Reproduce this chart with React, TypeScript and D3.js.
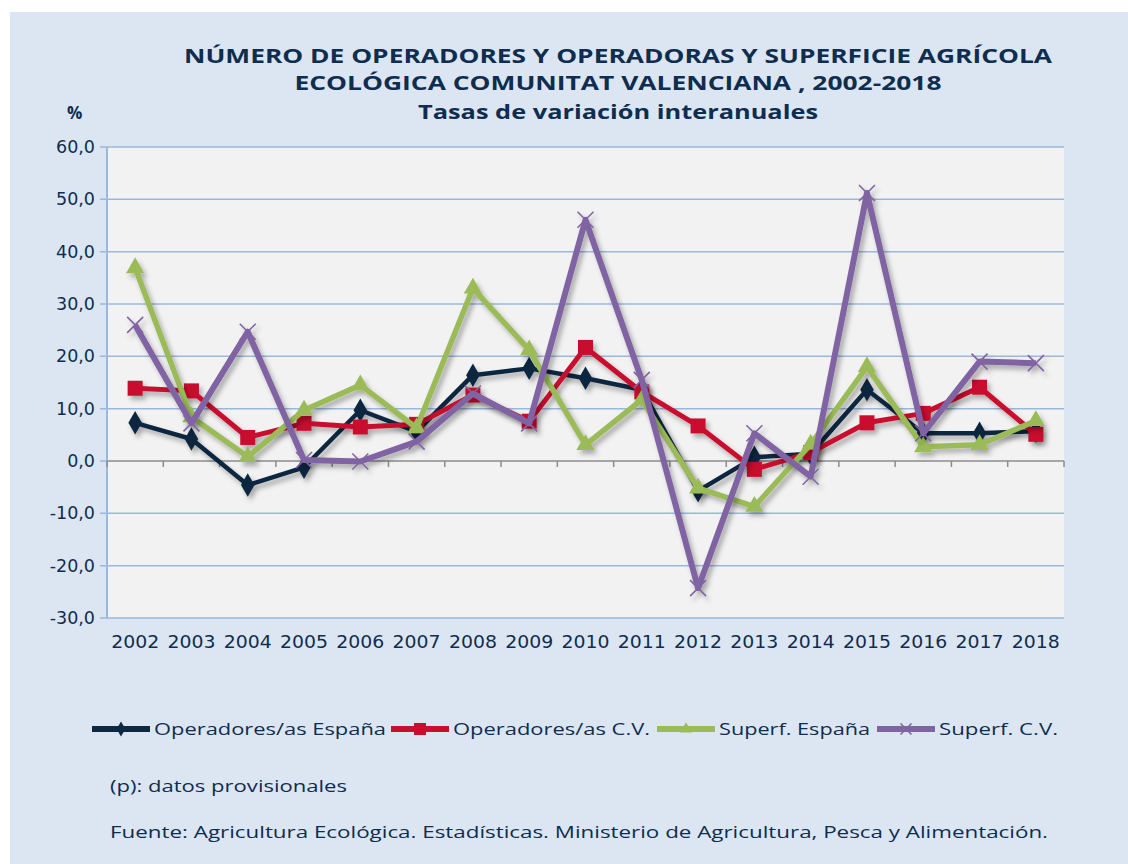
import React, { useEffect, useRef } from 'react';
import * as d3 from 'd3';

const years = ['2002', '2003', '2004', '2005', '2006', '2007', '2008', '2009', '2010', '2011', '2012', '2013', '2014', '2015', '2016', '2017', '2018'];

const operadoresEspana = [7.3, 4.2, -4.6, -1.2, 9.7, 5.6, 16.4, 17.7, 15.8, 13.6, -5.7, 0.7, 1.4, 13.6, 5.3, 5.3, 5.7];
const operadoresCV = [13.9, 13.4, 4.5, 7.2, 6.5, 7.0, 12.6, 7.6, 21.7, 13.2, 6.7, -1.6, 1.6, 7.3, 9.1, 14.1, 5.1];
const superfEspana = [36.9, 8.4, 0.8, 9.7, 14.5, 6.3, 33.0, 21.2, 3.1, 11.7, -5.2, -8.7, 3.2, 18.0, 2.7, 3.1, 7.7];
const superfCV = [26.0, 7.2, 24.7, 0.2, -0.1, 3.7, 12.9, 7.2, 46.1, 15.5, -24.3, 5.3, -3.0, 51.2, 5.3, 19.0, 18.7];

const yTicks = [60, 50, 40, 30, 20, 10, 0, -10, -20, -30];

const series = [
  { name: 'Operadores/as España', values: operadoresEspana, color: '#0e2841', width: 4.5, marker: 'diamond' },
  { name: 'Operadores/as C.V.', values: operadoresCV, color: '#c8102e', width: 5, marker: 'square' },
  { name: 'Superf. España', values: superfEspana, color: '#9bbb59', width: 5.5, marker: 'triangle' },
  { name: 'Superf. C.V.', values: superfCV, color: '#8064a2', width: 6, marker: 'cross' },
];

const width = 1128;
const height = 864;
const left = 107;
const right = 1064;
const top = 147;
const bottom = 618;
const textColor = '#0f2d4f';
const font = "'Open Sans', sans-serif";
const axisFont = "'DejaVu Sans', sans-serif";

function drawMarker(g: any, kind: string, x: number, y: number, color: string, size: number) {
  if (kind === 'diamond') {
    g.append('path')
      .attr('d', d3.symbol(d3.symbolDiamond, size * size * 0.55)())
      .attr('transform', 'translate(' + x + ',' + y + ')')
      .attr('fill', color);
  } else if (kind === 'square') {
    g.append('rect')
      .attr('x', x - size / 2)
      .attr('y', y - size / 2)
      .attr('width', size)
      .attr('height', size)
      .attr('fill', color);
  } else if (kind === 'triangle') {
    g.append('path')
      .attr('d', d3.symbol(d3.symbolTriangle, size * size * 0.5)())
      .attr('transform', 'translate(' + x + ',' + y + ')')
      .attr('fill', color);
  } else {
    const h = size / 2;
    g.append('path')
      .attr('d', `M${x - h},${y - h}L${x + h},${y + h}M${x - h},${y + h}L${x + h},${y - h}`)
      .attr('stroke', color)
      .attr('stroke-width', 1.6)
      .attr('fill', 'none');
  }
}

export default function App() {
  const ref = useRef<SVGSVGElement>(null);

  useEffect(() => {
    const svg = d3.select(ref.current);
    svg.selectAll('*').remove();

    const defs = svg.append('defs');
    const filter = defs.append('filter').attr('id', 'shadow').attr('x', '-20%').attr('y', '-20%').attr('width', '140%').attr('height', '140%');
    filter.append('feDropShadow')
      .attr('dx', 3)
      .attr('dy', 4)
      .attr('stdDeviation', 2.5)
      .attr('flood-color', '#000')
      .attr('flood-opacity', 0.3);

    svg.append('rect').attr('width', width).attr('height', height).attr('fill', '#ffffff');
    svg.append('rect')
      .attr('x', 10)
      .attr('y', 12)
      .attr('width', width - 10)
      .attr('height', height - 12)
      .attr('fill', '#dce6f2');

    const xScale = d3.scaleBand().domain(years).range([left, right]);
    const yScale = d3.scaleLinear().domain([-30, 60]).range([bottom, top]);

    // plot area
    svg.append('rect')
      .attr('x', left)
      .attr('y', top)
      .attr('width', right - left)
      .attr('height', bottom - top)
      .attr('fill', '#f2f2f2');

    // gridlines
    svg.append('g')
      .selectAll('line')
      .data(yTicks.filter((d) => d !== 0))
      .enter()
      .append('line')
      .attr('x1', left - 7)
      .attr('x2', right)
      .attr('y1', (d) => yScale(d))
      .attr('y2', (d) => yScale(d))
      .attr('stroke', '#9ab7dc')
      .attr('stroke-width', 1.5);

    // y axis line + zero tick
    svg.append('line')
      .attr('x1', left)
      .attr('x2', left)
      .attr('y1', top)
      .attr('y2', bottom)
      .attr('stroke', '#9ab7dc')
      .attr('stroke-width', 2);
    svg.append('line')
      .attr('x1', left - 7)
      .attr('x2', left)
      .attr('y1', yScale(0))
      .attr('y2', yScale(0))
      .attr('stroke', '#9ab7dc')
      .attr('stroke-width', 1.5);

    // x axis at zero
    svg.append('line')
      .attr('x1', left)
      .attr('x2', right)
      .attr('y1', yScale(0))
      .attr('y2', yScale(0))
      .attr('stroke', '#8c8c8c')
      .attr('stroke-width', 1.5);
    svg.append('g')
      .selectAll('line')
      .data(years.concat(['end']))
      .enter()
      .append('line')
      .attr('x1', (d, i) => left + i * xScale.bandwidth())
      .attr('x2', (d, i) => left + i * xScale.bandwidth())
      .attr('y1', yScale(0))
      .attr('y2', yScale(0) + 6)
      .attr('stroke', '#8c8c8c')
      .attr('stroke-width', 1.5);

    // y labels
    svg.append('g')
      .selectAll('text')
      .data(yTicks)
      .enter()
      .append('text')
      .attr('x', 95)
      .attr('y', (d) => yScale(d) + 6)
      .attr('text-anchor', 'end')
      .attr('font-family', axisFont)
      .attr('font-size', 17.5)
      .attr('fill', textColor)
      .text((d) => d.toFixed(1).replace('.', ','));

    // x labels
    svg.append('g')
      .selectAll('text')
      .data(years)
      .enter()
      .append('text')
      .attr('x', (d) => (xScale(d) as number) + xScale.bandwidth() / 2)
      .attr('y', 648)
      .attr('text-anchor', 'middle')
      .attr('font-family', axisFont)
      .attr('font-size', 18)
      .attr('fill', textColor)
      .attr('textLength', 48)
      .attr('lengthAdjust', 'spacingAndGlyphs')
      .text((d) => d);

    const cx = (i: number) => (xScale(years[i]) as number) + xScale.bandwidth() / 2;
    const line = d3.line<number>().x((d, i) => cx(i)).y((d) => yScale(d));

    series.forEach((s) => {
      const g = svg.append('g').attr('filter', 'url(#shadow)');
      g.append('path')
        .attr('d', line(s.values))
        .attr('fill', 'none')
        .attr('stroke', s.color)
        .attr('stroke-width', s.width)
        .attr('stroke-linejoin', 'round');
      const size = s.marker === 'cross' ? 16 : s.marker === 'square' ? 15 : 17;
      s.values.forEach((v, i) => drawMarker(g, s.marker, cx(i), yScale(v), s.color, size));
    });

    // titles
    const titles = [
      { t: 'NÚMERO DE OPERADORES Y OPERADORAS Y SUPERFICIE AGRÍCOLA', y: 63, w: 868 },
      { t: 'ECOLÓGICA COMUNITAT VALENCIANA , 2002-2018', y: 90, w: 647 },
      { t: 'Tasas de variación interanuales', y: 119, w: 400 },
    ];
    titles.forEach((d) => {
      svg.append('text')
        .attr('x', 618)
        .attr('y', d.y)
        .attr('text-anchor', 'middle')
        .attr('font-family', font)
        .attr('font-weight', 'bold')
        .attr('font-size', 20)
        .attr('fill', textColor)
        .attr('textLength', d.w)
        .attr('lengthAdjust', 'spacingAndGlyphs')
        .text(d.t);
    });
    svg.append('text')
      .attr('x', 67)
      .attr('y', 119)
      .attr('font-family', font)
      .attr('font-weight', 'bold')
      .attr('font-size', 17)
      .attr('fill', textColor)
      .text('%');

    // legend
    const legendX = [92, 391, 657, 877];
    const legendW = [232, 197, 151, 119];
    series.forEach((s, i) => {
      const g = svg.append('g');
      const x0 = legendX[i];
      g.append('line')
        .attr('x1', x0)
        .attr('x2', x0 + 58)
        .attr('y1', 729)
        .attr('y2', 729)
        .attr('stroke', s.color)
        .attr('stroke-width', 6);
      drawMarker(g, s.marker, x0 + 29, 729, s.color, s.marker === 'square' ? 12 : 11);
      g.append('text')
        .attr('x', x0 + 62)
        .attr('y', 735)
        .attr('font-family', font)
        .attr('font-size', 17)
        .attr('fill', textColor)
        .attr('textLength', legendW[i])
        .attr('lengthAdjust', 'spacingAndGlyphs')
        .text(s.name);
    });

    svg.append('text')
      .attr('x', 110)
      .attr('y', 792)
      .attr('font-family', font)
      .attr('font-size', 17)
      .attr('fill', textColor)
      .attr('textLength', 237)
      .attr('lengthAdjust', 'spacingAndGlyphs')
      .text('(p): datos provisionales');

    svg.append('text')
      .attr('x', 110)
      .attr('y', 838)
      .attr('font-family', font)
      .attr('font-size', 17)
      .attr('fill', textColor)
      .attr('textLength', 938)
      .attr('lengthAdjust', 'spacingAndGlyphs')
      .text('Fuente:  Agricultura Ecológica. Estadísticas. Ministerio de Agricultura, Pesca y Alimentación.');
  }, []);

  return (
    <svg
      ref={ref}
      width={width}
      height={height}
      style={{ position: 'absolute', left: 0, top: 0, display: 'block' }}
    />
  );
}
